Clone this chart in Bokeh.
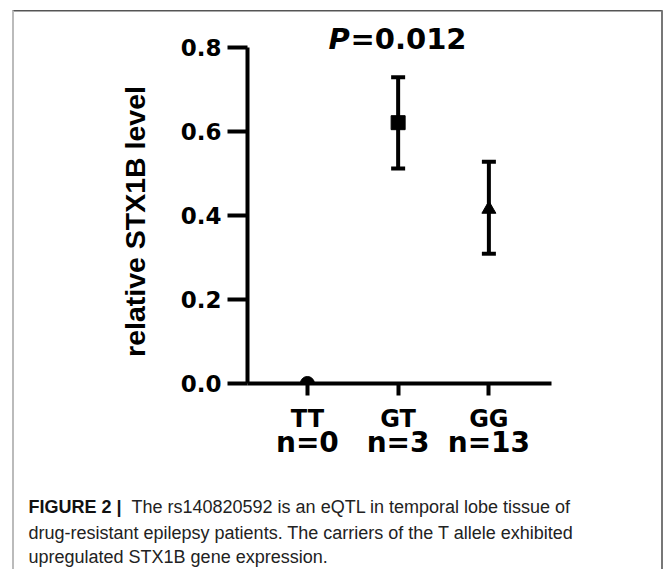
import math
from bokeh.plotting import figure
from bokeh.models import (FixedTicker, LinearAxis, Label, Whisker, ColumnDataSource,
                          Range1d, BoxAnnotation, TeeHead, NumeralTickFormatter)
from bokeh.embed import file_html
from bokeh.resources import INLINE

# ---------------- data ----------------
genotypes = ["TT", "GT", "GG"]
counts = ["n=0", "n=3", "n=13"]
means = [0.0, 0.621, 0.415]
upper = [0.0, 0.729, 0.528]
lower = [0.0, 0.512, 0.309]
markers = ["circle", "square", "triangle"]
y_ticks = [0.0, 0.2, 0.4, 0.6, 0.8]
p_value = "0.012"
y_label = "relative STX1B level"
caption_bold = "FIGURE 2 |"
caption_lines = [
    "The rs140820592 is an eQTL in temporal lobe tissue of",
    "drug-resistant epilepsy patients. The carriers of the T allele exhibited",
    "upregulated STX1B gene expression.",
]

# ---------------- geometry (pixels of the 663x569 page) ----------------
W, H = 663, 569
AX_L, AX_R = 247, 551        # x-axis line extent
AX_B, AX_T = 383, 47         # y = 0 and y = 0.8
XA, XB = 0.34, 3.69          # data x at AX_L / AX_R
YA, YB = 0.0, 0.8            # data y at AX_B / AX_T
BASE_FIX = 8.5               # renderer draws "alphabetic" labels this much lower

kx = (AX_R - AX_L) / (XB - XA)
ky = (AX_B - AX_T) / (YB - YA)
X0 = XA - AX_L / kx
X1 = X0 + W / kx
Y1 = YA + AX_B / ky
Y0 = Y1 - H / ky


def dx(px):
    return X0 + px / kx


def dy(py):
    return Y1 - py / ky


def dyb(py):
    # baseline position for alphabetic-baseline labels
    return dy(py - BASE_FIX)


xs = [i + 1 for i in range(len(genotypes))]

p = figure(width=W, height=H, x_range=Range1d(X0, X1), y_range=Range1d(Y0, Y1),
           output_backend="svg", toolbar_location=None,
           x_axis_type=None, y_axis_type=None,
           min_border_left=0, min_border_right=0, min_border_top=0, min_border_bottom=0)
p.outline_line_color = None
p.background_fill_color = "white"
p.border_fill_color = "white"
p.xgrid.visible = False
p.ygrid.visible = False

WIDE = "DejaVu Sans"
SANS = "Liberation Sans"

# y axis
yaxis = LinearAxis(ticker=FixedTicker(ticks=y_ticks),
                   formatter=NumeralTickFormatter(format="0.0"),
                   fixed_location=XA, bounds=(YA, YB))
yaxis.axis_line_width = 4
yaxis.axis_line_color = "black"
yaxis.major_tick_line_width = 4
yaxis.major_tick_out = 20
yaxis.major_tick_in = 0
yaxis.minor_tick_line_color = None
yaxis.major_label_text_font = WIDE
yaxis.major_label_text_font_style = "bold"
yaxis.major_label_text_font_size = "23px"
yaxis.major_label_text_color = "black"
yaxis.major_label_standoff = 6
p.add_layout(yaxis, "left")

# x axis (genotypes)
xaxis = LinearAxis(ticker=FixedTicker(ticks=xs), fixed_location=YA, bounds=(XA, XB),
                   major_label_overrides={x: g for x, g in zip(xs, genotypes)})
xaxis.axis_line_width = 4
xaxis.axis_line_color = "black"
xaxis.major_tick_line_width = 4
xaxis.major_tick_out = 12
xaxis.major_tick_in = 0
xaxis.minor_tick_line_color = None
xaxis.major_label_text_font = WIDE
xaxis.major_label_text_font_style = "bold"
xaxis.major_label_text_font_size = "24px"
xaxis.major_label_text_color = "black"
xaxis.major_label_standoff = 9
p.add_layout(xaxis, "below")

# x axis (group sizes)
xaxis2 = LinearAxis(ticker=FixedTicker(ticks=xs), fixed_location=dy(425),
                    major_label_overrides={x: c for x, c in zip(xs, counts)})
xaxis2.axis_line_color = None
xaxis2.major_tick_line_color = None
xaxis2.minor_tick_line_color = None
xaxis2.major_tick_out = 0
xaxis2.major_tick_in = 0
xaxis2.major_label_text_font = WIDE
xaxis2.major_label_text_font_style = "bold"
xaxis2.major_label_text_font_size = "28px"
xaxis2.major_label_text_color = "black"
xaxis2.major_label_standoff = 0
p.add_layout(xaxis2, "below")

# y axis title
p.add_layout(Label(x=dx(134), y=dy(221), text=y_label, angle=math.pi / 2,
                   text_font=SANS, text_font_style="bold", text_font_size="28.5px",
                   text_color="black", text_align="center", text_baseline="middle"))

# error bars
err_src = ColumnDataSource(data=dict(x=xs[1:], upper=upper[1:], lower=lower[1:]))
p.add_layout(Whisker(source=err_src, base="x", upper="upper", lower="lower",
                     dimension="height", line_width=4, line_color="black",
                     upper_head=TeeHead(size=14, line_width=4, line_color="black"),
                     lower_head=TeeHead(size=14, line_width=4, line_color="black")))

# points
pt_src = ColumnDataSource(data=dict(x=xs[1:], y=means[1:], marker=markers[1:]))
p.scatter(x="x", y="y", marker="marker", size=14, source=pt_src,
          fill_color="black", line_color="black")
# TT point sits on the axis: only its upper half shows
p.wedge(x=[xs[0]], y=[means[0]], radius=7, radius_units="screen",
        start_angle=0, end_angle=math.pi, fill_color="black", line_color="black")

# P value
p.add_layout(Label(x=dx(328), y=dyb(47), text="P", text_font=WIDE,
                   text_font_style="bold italic", text_font_size="29px",
                   text_color="black", text_baseline="alphabetic"))
p.add_layout(Label(x=dx(350), y=dyb(47), text="=" + p_value, text_font=WIDE,
                   text_font_style="bold", text_font_size="29px",
                   text_color="black", text_baseline="alphabetic"))

# caption
base_lines = [515, 541, 565]
p.add_layout(Label(x=dx(28), y=dyb(base_lines[0]), text=caption_bold, text_font=SANS,
                   text_font_style="bold", text_font_size="18px", text_color="#111111",
                   text_baseline="alphabetic"))
p.add_layout(Label(x=dx(131), y=dyb(base_lines[0]), text=caption_lines[0], text_font=SANS,
                   text_font_size="18px", text_color="#222222", text_baseline="alphabetic"))
for line, b in zip(caption_lines[1:], base_lines[1:]):
    p.add_layout(Label(x=dx(28), y=dyb(b), text=line, text_font=SANS,
                       text_font_size="18px", text_color="#222222",
                       text_baseline="alphabetic"))

# panel border
p.add_layout(BoxAnnotation(left=dx(12), right=dx(662), top=dy(9.5), bottom=dy(11),
                           fill_color="#555555", fill_alpha=1, line_color=None, level="overlay"))
p.add_layout(BoxAnnotation(left=dx(11.5), right=dx(13.5), top=dy(10), bottom=dy(575),
                           fill_color="#bbbbbb", fill_alpha=1, line_color=None, level="overlay"))
p.add_layout(BoxAnnotation(left=dx(660.5), right=dx(662.5), top=dy(10), bottom=dy(575),
                           fill_color="#777777", fill_alpha=1, line_color=None, level="overlay"))

open("out.html", "w").write(file_html(p, INLINE))
